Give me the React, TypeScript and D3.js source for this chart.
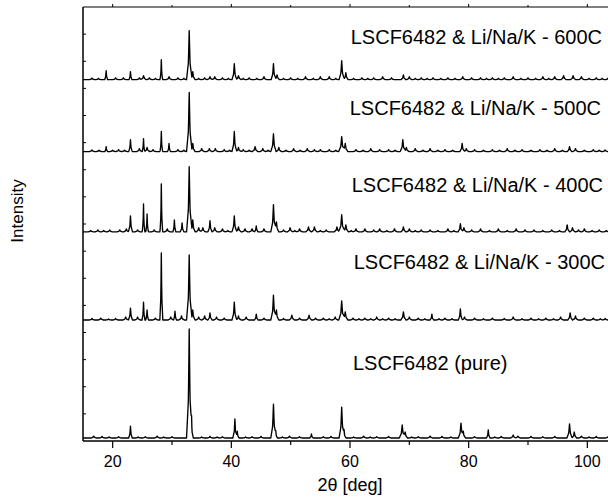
import React from 'react';
import * as d3 from 'd3';

// peaks: [2theta, intensity (a.u.), half base width in deg]
const pure = [
  [16.8, 7], [18.2, 6], [19.4, 4], [21.0, 5], [23.0, 44, 0.3], [24.3, 4], [25.5, 5], [27.5, 7], [28.6, 4], [30.0, 5],
  [32.9, 402, 0.45], [33.3, 60, 0.3], [35.0, 4], [36.4, 6], [37.6, 4], [38.5, 5], [40.6, 70, 0.35], [41.0, 25, 0.3],
  [42.4, 4], [43.5, 5], [45.0, 6], [47.1, 125, 0.45], [47.5, 20, 0.3], [48.6, 4], [49.8, 7], [51.5, 5], [53.5, 15, 0.3],
  [55.5, 5], [56.8, 6], [58.6, 114, 0.45], [59.0, 25, 0.35], [60.6, 4], [62.3, 7], [63.4, 4], [64.5, 5], [66.5, 6],
  [68.8, 48, 0.5], [69.3, 22, 0.4], [70.4, 4], [71.5, 5], [73.5, 7], [75.5, 6], [77.0, 4], [78.7, 55, 0.45], [79.1, 22, 0.4],
  [81.0, 5], [83.3, 30, 0.3], [84.4, 4], [85.5, 6], [87.5, 11], [88.3, 7], [90.5, 6], [92.5, 5], [94.5, 6],
  [97.0, 52, 0.45], [97.8, 22, 0.4], [99.0, 7], [100.3, 4], [101.5, 6], [103.5, 5]
];
const c300 = [
  [16.5, 6], [18.0, 7], [19.3, 4], [20.5, 6], [22.2, 11], [23.0, 44, 0.35], [24.2, 11], [25.2, 66, 0.25],
  [25.8, 37, 0.25], [27.2, 7], [28.2, 247, 0.25], [29.8, 11], [30.5, 33, 0.25], [31.6, 15],
  [32.9, 240, 0.45], [33.5, 37, 0.4], [34.5, 11], [35.5, 15], [36.4, 26, 0.35], [37.5, 11], [38.8, 7],
  [40.5, 66, 0.4], [41.2, 15], [42.5, 11], [44.2, 22, 0.3], [45.5, 7], [47.1, 92, 0.45], [47.6, 37, 0.4],
  [48.8, 6], [50.2, 18], [51.5, 7], [53.1, 18], [54.2, 7], [55.5, 7], [56.5, 5], [57.5, 11], [58.6, 70, 0.5], [59.2, 30, 0.45],
  [60.5, 7], [61.5, 5], [62.5, 7], [63.5, 5], [64.5, 11], [65.5, 5], [66.5, 7], [67.6, 5], [69.0, 30, 0.45], [70.0, 11], [71.5, 7],
  [72.6, 5], [73.8, 22, 0.3], [75.0, 5], [76.0, 7], [77.2, 5], [78.6, 41, 0.35], [79.3, 11], [81.0, 7], [82.5, 5], [84.0, 7],
  [86.0, 6], [87.5, 11], [89.0, 5], [90.5, 7], [91.8, 5], [93.0, 7], [94.3, 5], [95.5, 11], [97.1, 26, 0.4], [98.0, 15],
  [99.5, 7], [101.0, 7], [102.2, 5], [103.0, 6], [104.3, 5]
];
const c400 = [
  [16.3, 5], [17.5, 7], [18.5, 5], [19.5, 7], [21.2, 7], [22.3, 11], [23.0, 59, 0.35], [24.2, 7], [25.2, 103, 0.22],
  [25.8, 66, 0.22], [27.0, 7], [28.2, 177, 0.22], [29.2, 11], [30.4, 44, 0.25], [31.7, 33, 0.3],
  [32.9, 240, 0.45], [33.5, 44, 0.4], [34.5, 15], [35.2, 15], [36.4, 41, 0.35], [37.2, 15], [38.5, 11],
  [39.4, 5], [40.5, 59, 0.4], [41.2, 18], [42.3, 11], [43.5, 11], [44.2, 22, 0.3], [45.5, 11], [47.1, 100, 0.45],
  [47.6, 37, 0.4], [48.8, 7], [49.9, 15], [50.7, 5], [51.5, 11], [53.0, 18], [54.0, 18], [55.0, 5], [56.0, 7], [57.8, 18],
  [58.6, 63, 0.5], [59.3, 26, 0.45], [60.2, 5], [61.0, 11], [62.5, 11], [64.0, 7], [65.0, 11], [66.2, 5], [67.5, 11],
  [69.0, 18, 0.4], [70.0, 11], [71.0, 5], [72.0, 7], [73.5, 7], [74.8, 5], [76.5, 11], [77.5, 5], [78.6, 30, 0.4], [79.2, 15],
  [80.5, 7], [82.0, 11], [83.5, 5], [85.0, 11], [86.5, 5], [88.0, 11], [89.5, 7], [91.0, 7], [92.5, 5], [94.0, 7], [95.3, 5],
  [96.6, 26, 0.4], [97.5, 15], [98.5, 7], [99.5, 11], [100.8, 5], [102.0, 7], [103.2, 5], [104.0, 6]
];
const c500 = [
  [16.5, 6], [17.7, 5], [18.9, 18, 0.25], [20.0, 5], [21.0, 7], [22.0, 5], [23.0, 44, 0.3], [24.5, 11], [25.2, 48, 0.22],
  [25.8, 15], [26.8, 7], [28.2, 74, 0.22], [29.5, 30, 0.25], [31.0, 7], [32.0, 5], [32.9, 218, 0.45], [33.5, 30, 0.4],
  [35.0, 11], [36.3, 11], [37.3, 11], [38.8, 7], [39.7, 5], [40.5, 74, 0.4], [41.2, 15], [42.0, 7], [43.0, 5], [44.0, 18],
  [45.3, 11], [46.2, 5], [47.1, 66, 0.45], [48.0, 15], [49.2, 5], [50.5, 11], [51.6, 5], [52.8, 11], [54.0, 7], [55.0, 7],
  [56.5, 7], [57.6, 5], [58.6, 55, 0.5], [59.2, 30, 0.45], [61.0, 7], [62.2, 5], [63.5, 11], [65.0, 7], [66.5, 7], [67.6, 5],
  [68.9, 44, 0.45], [69.5, 15], [71.0, 11], [72.3, 5], [73.5, 11], [74.8, 5], [76.0, 7], [77.3, 5], [78.9, 30, 0.4],
  [79.6, 11], [81.0, 7], [82.5, 5], [84.0, 7], [85.2, 5], [86.5, 11], [87.8, 5], [89.0, 7], [90.5, 5], [92.0, 7], [93.2, 5],
  [94.5, 11], [95.8, 5], [97.0, 18, 0.4], [98.0, 11], [99.5, 5], [101.0, 7], [102.0, 5], [103.0, 6], [104.3, 5]
];
const c600 = [
  [16.5, 6], [17.6, 5], [18.9, 33, 0.25], [20.5, 7], [21.8, 7], [23.0, 30, 0.25], [24.5, 7], [25.2, 15],
  [26.2, 7], [27.2, 5], [28.2, 74, 0.22], [29.5, 11], [31.0, 7], [32.0, 5], [32.9, 181, 0.45], [33.5, 30, 0.4], [34.5, 5],
  [35.5, 7], [36.4, 11], [37.2, 11], [38.5, 7], [39.5, 5], [40.5, 59, 0.4], [41.2, 15], [42.0, 5], [43.0, 7], [44.3, 5],
  [45.5, 11], [47.1, 59, 0.4], [47.7, 18], [48.8, 5], [50.0, 7], [51.2, 5], [52.5, 11], [53.8, 5], [55.0, 11], [56.5, 11],
  [57.6, 5], [58.6, 70, 0.45], [59.3, 26, 0.4], [60.6, 5], [62.0, 7], [63.0, 5], [64.0, 7], [65.5, 11], [67.0, 7],
  [69.0, 18, 0.4], [70.0, 11], [71.0, 5], [72.0, 7], [73.0, 5], [74.0, 7], [75.3, 5], [76.5, 7], [77.7, 5], [79.0, 11],
  [80.5, 7], [82.0, 7], [83.0, 5], [84.0, 7], [85.0, 5], [86.0, 7], [87.5, 11], [88.8, 5], [90.0, 7], [91.3, 5],
  [92.5, 11], [93.5, 5], [94.5, 11], [96.0, 15], [97.6, 15], [99.0, 11], [100.3, 5], [101.5, 7], [102.5, 5], [103.5, 6]
];

const seriesNames = [
  'LSCF6482 (pure)',
  'LSCF6482 & Li/Na/K - 300C',
  'LSCF6482 & Li/Na/K - 400C',
  'LSCF6482 & Li/Na/K - 500C',
  'LSCF6482 & Li/Na/K - 600C'
];
const seriesPeaks = [pure, c300, c400, c500, c600];
const seriesOffsets = [11, 446, 771, 1067, 1332];
const xMajorTicks = [20, 40, 60, 80, 100];
const xMinorTicks = [30, 50, 70, 90];

const W = 608, H = 497;
const FONT = 'Liberation Sans, Arial, sans-serif';

// label placement in px: [x, baseline y, anchor]
const labelPos: [number, number, string][] = [
  [353, 370, 'start'],
  [605, 269, 'end'],
  [603, 192, 'end'],
  [601, 115, 'end'],
  [602, 44, 'end']
];

function profile(dx: number, w: number) {
  const t = Math.abs(dx) / w;
  if (t >= 1) return 0;
  if (t < 0.3) return 1 - (t / 0.3) * 0.65;
  return (0.35 * (1 - t)) / 0.7;
}

export default function App() {
  const x = d3.scaleLinear().domain([15, 105]).range([83, 617]);
  const y = d3.scaleLinear().domain([0, 1600]).range([441, 7]);

  const grid = d3.range(15, 105.001, 0.05);

  const paths = seriesPeaks.map((peaks, i) => {
    const xs = grid.concat(peaks.map(p => p[0])).sort((a, b) => a - b);
    const pts = xs.map(t => {
      let v = seriesOffsets[i];
      for (const p of peaks) v += p[1] * profile(t - p[0], p[2] ?? 0.45);
      return [t, v] as [number, number];
    });
    return d3.line<[number, number]>().x(d => x(d[0])).y(d => y(d[1]))(pts) || '';
  });

  const yTicks = d3.range(100, 1600, 100);

  return (
    <svg width={W} height={H} style={{ position: 'absolute', left: 0, top: 0, background: '#fff' }}>
      <defs>
        <clipPath id="plot">
          <rect x={83} y={7} width={534} height={434} />
        </clipPath>
      </defs>
      <g clipPath="url(#plot)">
        {paths.map((d, i) => (
          <path key={i} d={d} fill="none" stroke="#000" strokeWidth={1.35} strokeLinejoin="round" />
        ))}
      </g>
      {/* frame */}
      <line x1={83} x2={617} y1={441} y2={441} stroke="#000" strokeWidth={1.5} />
      <line x1={83} x2={617} y1={7} y2={7} stroke="#000" strokeWidth={1.2} />
      <line x1={83} x2={83} y1={7} y2={441} stroke="#000" strokeWidth={1.5} />
      {xMajorTicks.map(t => (
        <g key={'M' + t}>
          <line x1={x(t)} x2={x(t)} y1={441} y2={448} stroke="#000" strokeWidth={1.2} />
          <line x1={x(t)} x2={x(t)} y1={7} y2={4} stroke="#000" strokeWidth={1} />
          <text x={x(t)} y={467} textAnchor="middle" fontFamily={FONT} fontSize={16}>{t}</text>
        </g>
      ))}
      {xMinorTicks.map(t => (
        <g key={'m' + t}>
          <line x1={x(t)} x2={x(t)} y1={441} y2={445} stroke="#000" strokeWidth={1.2} />
          <line x1={x(t)} x2={x(t)} y1={7} y2={5} stroke="#000" strokeWidth={1} />
        </g>
      ))}
      {yTicks.map(t => (
        <line key={t} x1={83} x2={86} y1={y(t)} y2={y(t)} stroke="#000" strokeWidth={1} />
      ))}
      {seriesNames.map((s, i) => (
        <text key={s} x={labelPos[i][0]} y={labelPos[i][1]} textAnchor={labelPos[i][2] as any}
          fontFamily={FONT} fontSize={20} fill="#000">{s}</text>
      ))}
      <text x={350} y={491} textAnchor="middle" fontFamily={FONT} fontSize={18}>2θ [deg]</text>
      <text transform="translate(23,211) rotate(-90)" textAnchor="middle" fontFamily={FONT} fontSize={17}>Intensity</text>
    </svg>
  );
}
